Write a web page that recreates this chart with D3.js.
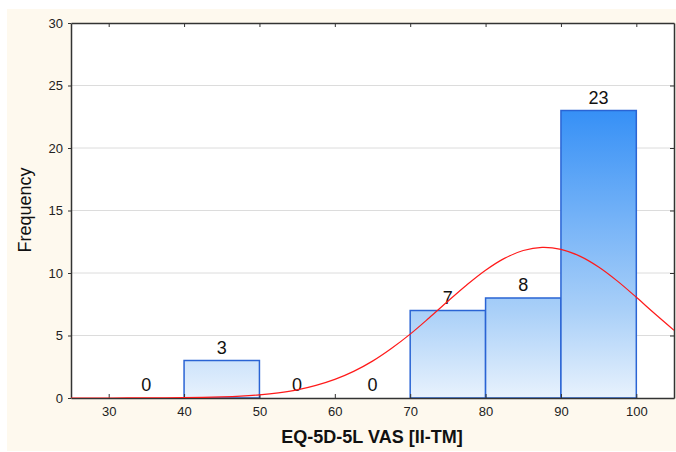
<!DOCTYPE html>
<html>
<head>
<meta charset="utf-8">
<script src="https://cdn.jsdelivr.net/npm/d3@7"></script>
<style>
  body { margin: 0; background: #fff; }
  text { font-family: Arial, "Liberation Sans", sans-serif; }
</style>
</head>
<body>
<script>
// dimensions
var width = 676, height = 452;
var left = 71, top_ = 23, right = 674, bottom = 398;

// histogram bins (lower edge) and counts
var binStart = [30, 40, 50, 60, 70, 80, 90];
var binWidth = 10;
var counts = [0, 3, 0, 0, 7, 8, 23];

// fitted normal curve
var curveX = [25, 27.5, 30, 32.5, 35, 37.5, 40, 42.5, 45, 47.5, 50, 52.5, 55, 57.5, 60, 62.5, 65,
              67.5, 70, 72.5, 75, 77.5, 80, 82.5, 85, 87.5, 90, 92.5, 95, 97.5, 100, 102.5, 105];
var curveY = [0.0003, 0.0006, 0.0014, 0.003, 0.006, 0.013, 0.025, 0.047, 0.085, 0.149, 0.254, 0.414, 0.65, 1.01, 1.49, 2.13, 2.95,
              3.96, 5.11, 6.40, 7.74, 9.04, 10.22, 11.17, 11.80, 12.05, 11.89, 11.35, 10.48, 9.35, 8.06, 6.72, 5.42];

// tick values
var xTicks = [30, 40, 50, 60, 70, 80, 90, 100];
var yTicks = [0, 5, 10, 15, 20, 25, 30];

var svg = d3.select("body").append("svg")
    .attr("width", width)
    .attr("height", height);

// cream panel
svg.append("rect")
    .attr("x", 7).attr("y", 9)
    .attr("width", width - 7).attr("height", 442)
    .attr("fill", "#fef9ee");

svg.append("rect")
    .attr("x", left).attr("y", top_)
    .attr("width", right - left).attr("height", bottom - top_)
    .attr("fill", "#fff");

// scales
var x = d3.scaleLinear().domain([25, 105]).range([left, right]);
var y = d3.scaleLinear().domain([0, 30]).range([bottom, top_]);

// gradient for the bars
var defs = svg.append("defs");
var grad = defs.append("linearGradient")
    .attr("id", "barGrad")
    .attr("gradientUnits", "userSpaceOnUse")
    .attr("x1", 0).attr("x2", 0)
    .attr("y1", y(0)).attr("y2", y(23));
grad.append("stop").attr("offset", "0%").attr("stop-color", "#e8f2fd");
grad.append("stop").attr("offset", "30%").attr("stop-color", "#aad0f8");
grad.append("stop").attr("offset", "100%").attr("stop-color", "#3690f6");

defs.append("clipPath").attr("id", "plotClip")
  .append("rect")
    .attr("x", left).attr("y", top_)
    .attr("width", right - left).attr("height", bottom - top_);

// grid lines
svg.append("g").selectAll("line")
    .data(yTicks.filter(function (d) { return d > 0 && d < 30; }))
    .enter().append("line")
    .attr("x1", left).attr("x2", right)
    .attr("y1", function (d) { return y(d); })
    .attr("y2", function (d) { return y(d); })
    .attr("stroke", "#dcdcdc")
    .attr("stroke-width", 1);

// bars
var bins = binStart.map(function (b, i) { return { x0: b, n: counts[i] }; });

svg.append("g").selectAll("rect")
    .data(bins.filter(function (d) { return d.n > 0; }))
    .enter().append("rect")
    .attr("x", function (d) { return x(d.x0); })
    .attr("y", function (d) { return y(d.n); })
    .attr("width", function (d) { return x(d.x0 + binWidth) - x(d.x0); })
    .attr("height", function (d) { return y(0) - y(d.n); })
    .attr("fill", "url(#barGrad)")
    .attr("stroke", "#2a64d4")
    .attr("stroke-width", 1.5);

// count labels
svg.append("g").selectAll("text")
    .data(bins)
    .enter().append("text")
    .attr("x", function (d) { return x(d.x0 + binWidth / 2); })
    .attr("y", function (d) { return y(d.n) - 7; })
    .attr("text-anchor", "middle")
    .attr("font-size", 18)
    .attr("fill", "#111")
    .text(function (d) { return d.n; });

// axes
var axisColor = "#333";
var gx = svg.append("g").attr("transform", "translate(0," + bottom + ")")
    .call(d3.axisBottom(x).tickValues(xTicks).tickSize(-4).tickSizeOuter(0).tickPadding(9));
var gy = svg.append("g").attr("transform", "translate(" + left + ",0)")
    .call(d3.axisLeft(y).tickValues(yTicks).tickSize(3).tickSizeOuter(0).tickPadding(5));
var gt = svg.append("g").attr("transform", "translate(0," + top_ + ")")
    .call(d3.axisTop(x).tickValues(xTicks).tickSize(-4).tickSizeOuter(0).tickFormat(""));
var gr = svg.append("g").attr("transform", "translate(" + right + ",0)")
    .call(d3.axisRight(y).tickValues(yTicks).tickSize(-4).tickSizeOuter(0).tickFormat(""));

[gx, gy, gt, gr].forEach(function (g) {
    g.select(".domain").attr("stroke", axisColor).attr("stroke-width", 1.5);
    g.selectAll(".tick line").attr("stroke", axisColor);
    g.selectAll(".tick text")
        .attr("font-size", 13)
        .attr("fill", "#222")
        .style("font-family", "Arial, 'Liberation Sans', sans-serif");
});

// normal curve
var line = d3.line()
    .x(function (d, i) { return x(curveX[i]); })
    .y(function (d) { return y(d); })
    .curve(d3.curveCatmullRom);

svg.append("path")
    .datum(curveY)
    .attr("clip-path", "url(#plotClip)")
    .attr("d", line)
    .attr("fill", "none")
    .attr("stroke", "#ff1a1a")
    .attr("stroke-width", 1.2);

// axis titles
svg.append("text")
    .attr("x", 372)
    .attr("y", 443)
    .attr("text-anchor", "middle")
    .attr("font-size", 18)
    .attr("font-weight", "bold")
    .attr("fill", "#111")
    .text("EQ-5D-5L VAS [II-TM]");

svg.append("text")
    .attr("transform", "translate(31,210) rotate(-90)")
    .attr("text-anchor", "middle")
    .attr("font-size", 18)
    .attr("fill", "#111")
    .text("Frequency");
</script>
</body>
</html>
